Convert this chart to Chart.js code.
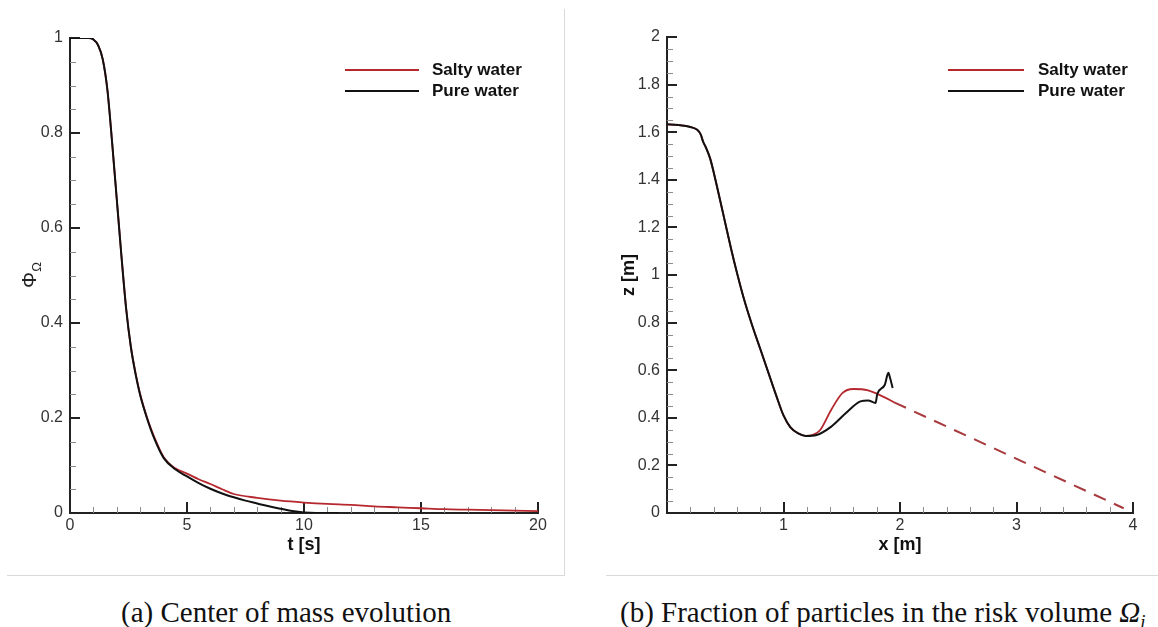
<!DOCTYPE html>
<html>
<head>
<meta charset="utf-8">
<script src="https://cdn.jsdelivr.net/npm/chart.js@4.4.1/dist/chart.umd.min.js"></script>
<style>
  body { margin: 0; background: #fff; }
  #page { position: relative; width: 1158px; height: 627px; overflow: hidden; }
  .frame { position: absolute; border: 0 solid #d9d9d9; }
  canvas { position: absolute; }
  .cap { position: absolute; font-family: "Liberation Serif", serif; font-size: 29px; color: #111; white-space: nowrap; line-height: 34px; }
  .cap sub { font-size: 0.65em; vertical-align: -0.3em; line-height: 0; }
</style>
</head>
<body>
<div id="page">
  <div class="frame" style="left:7px;top:9px;width:557px;height:566px;border-right-width:1px;border-bottom-width:1px;"></div>
  <div class="frame" style="left:606px;top:9px;width:552px;height:566px;border-bottom-width:1px;"></div>
  <canvas id="chartA" width="564" height="575" style="left:0;top:0"></canvas>
  <canvas id="chartB" width="568" height="575" style="left:590px;top:0"></canvas>
  <div class="cap" style="left:121px;top:595px;">(a) Center of mass evolution</div>
  <div class="cap" style="left:620px;top:595px;">(b) Fraction of particles in the risk volume <i>Ω<sub>i</sub></i></div>
</div>
<script>
// (a) Phi_Omega vs t
var tSalty   = [0, 0.5, 0.8, 1.0, 1.2, 1.4, 1.6, 1.8, 2.0, 2.2, 2.4, 2.6, 2.8, 3.0, 3.3, 3.6, 4.0, 4.5, 5.0, 5.5,
                6.0, 6.5, 7.0, 8, 9, 10, 11, 12, 13, 14, 15, 16, 17, 18, 19, 20];
var phiSalty = [1, 1, 1, 0.997, 0.985, 0.955, 0.89, 0.78, 0.66, 0.54, 0.43, 0.35, 0.295, 0.25, 0.2, 0.16, 0.118, 0.094, 0.083, 0.071,
                0.061, 0.05, 0.04, 0.032, 0.026, 0.022, 0.019, 0.017, 0.014, 0.012, 0.01, 0.008, 0.007, 0.006, 0.005, 0.004];
var tPure    = [0, 0.5, 0.8, 1.0, 1.2, 1.4, 1.6, 1.8, 2.0, 2.2, 2.4, 2.6, 2.8, 3.0, 3.3, 3.6, 4.0, 4.5, 5.0, 5.5,
                6.0, 6.5, 7.0, 7.5, 8.0, 8.5, 9.0, 9.5, 10, 10.5, 11.5];
var phiPure  = [1, 1, 1, 0.997, 0.985, 0.955, 0.89, 0.78, 0.66, 0.54, 0.43, 0.35, 0.293, 0.248, 0.198, 0.157, 0.116, 0.092, 0.077, 0.063,
                0.051, 0.041, 0.033, 0.026, 0.02, 0.014, 0.009, 0.004, 0.001, 0, 0];
var tTicks     = [0, 5, 10, 15, 20];
var tLabels    = ['0', '5', '10', '15', '20'];
var phiTicks   = [0, 0.2, 0.4, 0.6, 0.8, 1];
var phiLabels  = ['0', '0.2', '0.4', '0.6', '0.8', '1'];

// (b) z vs x
var xSalty = [0, 0.1, 0.2, 0.26, 0.29, 0.31, 0.33, 0.37, 0.43, 0.49, 0.55, 0.6, 0.66, 0.73, 0.8, 0.87, 0.94, 1.0, 1.06, 1.126, 1.19,
              1.26, 1.315, 1.41, 1.505, 1.6, 1.726, 1.85, 1.95];
var zSalty = [1.633, 1.63, 1.622, 1.61, 1.59, 1.56, 1.54, 1.49, 1.37, 1.24, 1.11, 1.01, 0.9, 0.79, 0.69, 0.59, 0.49, 0.41, 0.36, 0.335, 0.324,
              0.33, 0.349, 0.434, 0.504, 0.521, 0.515, 0.49, 0.465];
var xPure  = [0, 0.1, 0.2, 0.26, 0.29, 0.31, 0.33, 0.37, 0.43, 0.49, 0.55, 0.6, 0.66, 0.73, 0.8, 0.87, 0.94, 1.0, 1.06, 1.126, 1.19,
              1.284, 1.41, 1.536, 1.66, 1.726, 1.79, 1.805, 1.87, 1.9, 1.915, 1.937];
var zPure  = [1.633, 1.63, 1.622, 1.61, 1.59, 1.56, 1.54, 1.49, 1.37, 1.24, 1.11, 1.01, 0.9, 0.79, 0.69, 0.59, 0.49, 0.41, 0.36, 0.335, 0.324,
              0.328, 0.363, 0.42, 0.469, 0.473, 0.462, 0.5, 0.539, 0.589, 0.567, 0.525];
var xExtrap = [1.95, 3.92];
var zExtrap = [0.465, 0.02];
var xTicks  = [0, 1, 2, 3, 4];
var xLabels = ['', '1', '2', '3', '4'];
var zTicks  = [0, 0.2, 0.4, 0.6, 0.8, 1, 1.2, 1.4, 1.6, 1.8, 2];
var zLabels = ['0', '0.2', '0.4', '0.6', '0.8', '1', '1.2', '1.4', '1.6', '1.8', '2'];

var RED = '#b5282e';
var BLACK = '#111';

Chart.defaults.font.family = '"Liberation Sans", Arial, sans-serif';

function pts(xs, ys) {
  return xs.map(function (x, i) { return {x: x, y: ys[i]}; });
}

// inward major + minor tick marks
const tickMarks = {
  id: 'tickMarks',
  beforeDatasetsDraw(chart, args, opts) {
    const ctx = chart.ctx, a = chart.chartArea;
    const sx = chart.scales.x, sy = chart.scales.y;
    ctx.save();
    ctx.strokeStyle = '#8c8c8c';
    ctx.lineWidth = 1;
    ctx.beginPath();
    let n = Math.round((sx.max - sx.min) / opts.xMinor);
    for (let k = 1; k < n; k++) {
      const px = Math.round(sx.getPixelForValue(sx.min + k * opts.xMinor)) + 0.5;
      ctx.moveTo(px, a.bottom); ctx.lineTo(px, a.bottom - 6);
    }
    n = Math.round((sy.max - sy.min) / opts.yMinor);
    for (let k = 1; k < n; k++) {
      const py = Math.round(sy.getPixelForValue(sy.min + k * opts.yMinor)) + 0.5;
      ctx.moveTo(a.left, py); ctx.lineTo(a.left + 6, py);
    }
    ctx.stroke();
    ctx.strokeStyle = '#222';
    ctx.lineWidth = 2;
    ctx.beginPath();
    sx.ticks.forEach(function (t) {
      const px = Math.round(sx.getPixelForValue(t.value));
      ctx.moveTo(px, a.bottom); ctx.lineTo(px, a.bottom - 11);
    });
    sy.ticks.forEach(function (t) {
      const py = Math.round(sy.getPixelForValue(t.value));
      ctx.moveTo(a.left, py); ctx.lineTo(a.left + 10, py);
    });
    ctx.stroke();
    ctx.restore();
  }
};

// stacked legend with line samples
const lineLegend = {
  id: 'lineLegend',
  afterDraw(chart, args, opts) {
    const ctx = chart.ctx;
    ctx.save();
    opts.items.forEach(function (idx, row) {
      const ds = chart.data.datasets[idx];
      const yy = opts.y + row * opts.gap;
      ctx.strokeStyle = ds.borderColor;
      ctx.lineWidth = 2;
      ctx.beginPath();
      ctx.moveTo(opts.x0, yy); ctx.lineTo(opts.x1, yy);
      ctx.stroke();
      ctx.fillStyle = '#111';
      ctx.font = 'bold 17px "Liberation Sans"';
      ctx.textBaseline = 'middle';
      ctx.fillText(ds.label, opts.textX, yy);
    });
    ctx.restore();
  }
};

// Phi with subscript Omega, rotated
const phiTitle = {
  id: 'phiTitle',
  afterDraw(chart, args, opts) {
    const ctx = chart.ctx;
    ctx.save();
    ctx.translate(opts.x, opts.y);
    ctx.rotate(-Math.PI / 2);
    ctx.fillStyle = '#222';
    ctx.textAlign = 'center';
    ctx.textBaseline = 'middle';
    ctx.font = '20px "Liberation Sans"';
    ctx.fillText('Φ', 0, 0);
    ctx.font = '13px "Liberation Sans"';
    ctx.fillText('Ω', 13, 7);
    ctx.restore();
  }
};

function axis(min, max, ticks, labels, size, horiz, title, titlePad) {
  const o = {
    type: 'linear', min: min, max: max,
    afterBuildTicks: function (s) { s.ticks = ticks.map(function (v) { return {value: v}; }); },
    afterFit: function (s) { if (horiz) s.height = size; else s.width = size; },
    grid: { display: true, drawOnChartArea: false, drawTicks: false },
    border: { display: true, color: '#222', width: 2 },
    ticks: {
      padding: horiz ? 3 : 7, color: '#333', font: { size: 16 },
      maxRotation: 0, autoSkip: false,
      callback: function (v, i) { return labels[i]; }
    },
    title: { display: false }
  };
  if (title) {
    o.title = { display: true, text: title, color: '#111', font: { size: 18, weight: 'bold' }, padding: titlePad };
  }
  return o;
}

new Chart(document.getElementById('chartA'), {
  type: 'line',
  data: {
    datasets: [
      { label: 'Salty water', data: pts(tSalty, phiSalty), borderColor: RED, borderWidth: 1.8, order: 1 },
      { label: 'Pure water', data: pts(tPure, phiPure), borderColor: BLACK, borderWidth: 2, order: 0 }
    ]
  },
  options: {
    responsive: false,
    animation: false,
    devicePixelRatio: 1,
    layout: { padding: { left: 0, right: 26, top: 38, bottom: 0 } },
    elements: { point: { radius: 0 }, line: { cubicInterpolationMode: 'monotone' } },
    scales: {
      x: axis(0, 20, tTicks, tLabels, 62, true, 't [s]', { top: 0, bottom: 19 }),
      y: axis(0, 1, phiTicks, phiLabels, 70, false, null)
    },
    plugins: {
      legend: { display: false },
      tooltip: { enabled: false },
      tickMarks: { xMinor: 1, yMinor: 0.05 },
      lineLegend: { items: [0, 1], x0: 345, x1: 419, textX: 432, y: 70, gap: 21 },
      phiTitle: { x: 30, y: 280 }
    }
  },
  plugins: [tickMarks, lineLegend, phiTitle]
});

new Chart(document.getElementById('chartB'), {
  type: 'line',
  data: {
    datasets: [
      { label: 'Salty water', data: pts(xSalty, zSalty), borderColor: RED, borderWidth: 1.8, order: 1 },
      { label: 'Pure water', data: pts(xPure, zPure), borderColor: BLACK, borderWidth: 2, order: 0 },
      { label: 'Salty water (extrapolated)', data: pts(xExtrap, zExtrap), borderColor: '#a83a3e', borderWidth: 2,
        borderDash: [13, 9], order: 2 }
    ]
  },
  options: {
    responsive: false,
    animation: false,
    devicePixelRatio: 1,
    layout: { padding: { left: 0, right: 25, top: 37, bottom: 0 } },
    elements: { point: { radius: 0 }, line: { cubicInterpolationMode: 'monotone' } },
    scales: {
      x: axis(0, 4, xTicks, xLabels, 62, true, 'x [m]', { top: 0, bottom: 19 }),
      y: axis(0, 2, zTicks, zLabels, 77, false, 'z [m]', { top: 28, bottom: 0 })
    },
    plugins: {
      legend: { display: false },
      tooltip: { enabled: false },
      tickMarks: { xMinor: 0.2, yMinor: 0.05 },
      lineLegend: { items: [0, 1], x0: 358, x1: 434, textX: 448, y: 70, gap: 21 }
    }
  },
  plugins: [tickMarks, lineLegend]
});
</script>
</body>
</html>
